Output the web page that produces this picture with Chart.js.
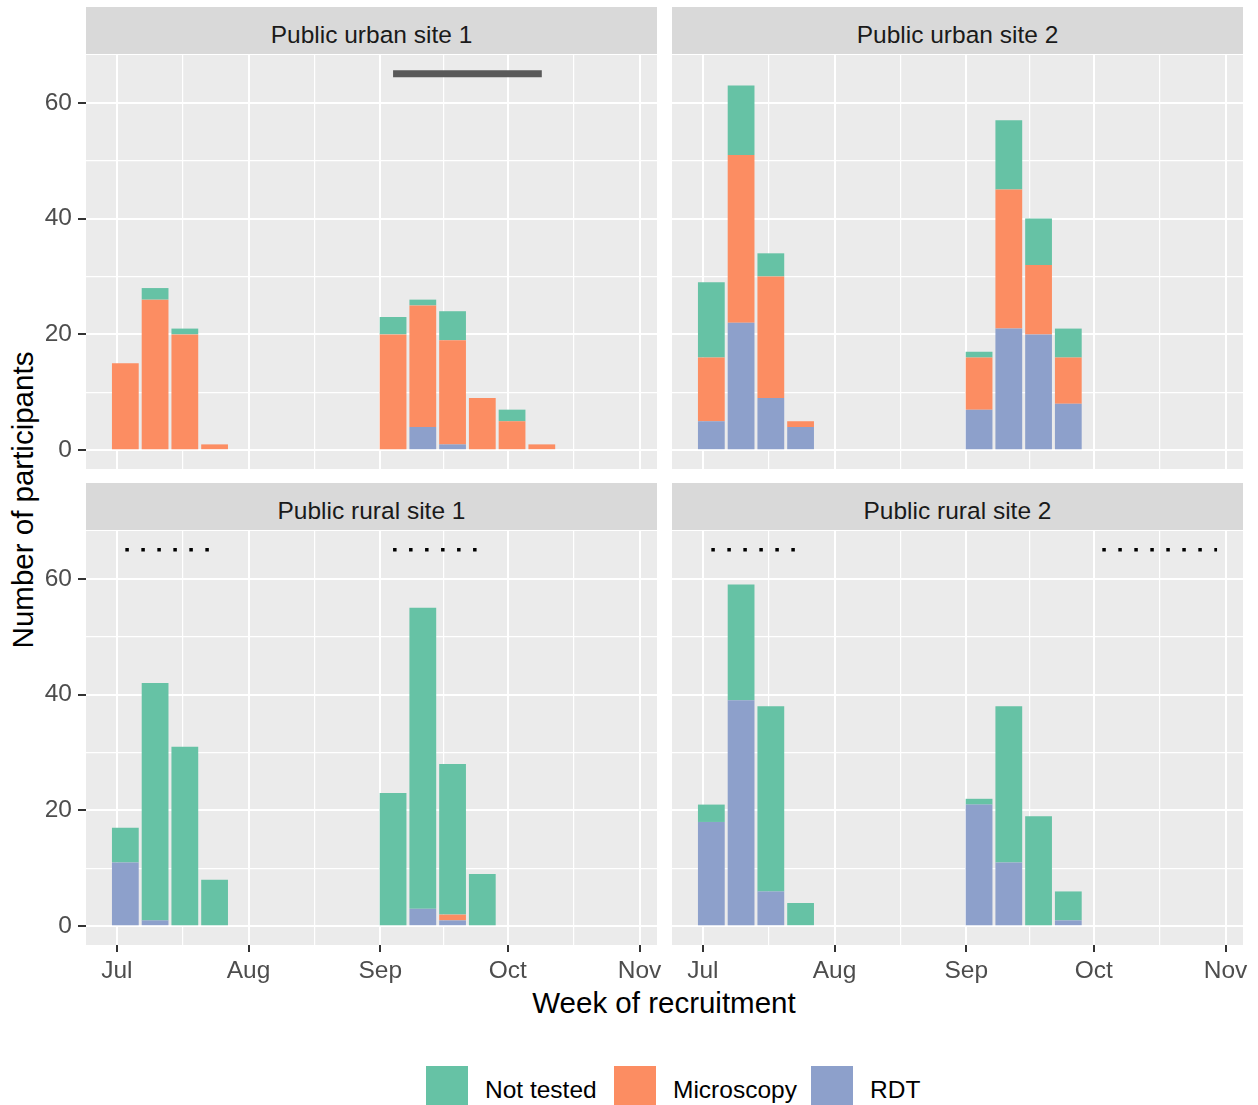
<!DOCTYPE html>
<html>
<head>
<meta charset="utf-8">
<title>Week of recruitment</title>
<script src="https://cdn.jsdelivr.net/npm/chart.js@4.4.1/dist/chart.umd.min.js"></script>
<style>
  body { margin: 0; background: #fff; }
  #lienzo { position: relative; width: 1258px; height: 1105px; overflow: hidden; background: #fff;
            font-family: "Liberation Sans", Arial, sans-serif; }
  #lienzo canvas { position: absolute; }
  .strip { position: absolute; background: #D9D9D9; color: #1A1A1A; font-size: 24.5px; box-sizing: border-box;
           padding-top: 8px; display: flex; align-items: center; justify-content: center; white-space: nowrap; }
  .titulo { position: absolute; color: #000; font-size: 29.5px; white-space: nowrap; }
  .item { position: absolute; top: 1066px; height: 42px; display: flex; align-items: center;
          font-size: 24.5px; color: #000; }
  .clave { width: 42px; height: 42px; margin-right: 17px; }
  .texto { padding-top: 6px; white-space: nowrap; }
</style>
</head>
<body>
<div id="lienzo">
  <div class="titulo" style="left:23px;top:500px;transform:translate(-50%,-50%) rotate(-90deg)">Number of participants</div>
  <div class="titulo" style="left:664px;top:1003px;transform:translate(-50%,-50%)">Week of recruitment</div>
</div>
<script>
// values, x in days counted from 1 Jul
const months = ['Jul', 'Aug', 'Sep', 'Oct', 'Nov']
const monthDays = [0, 31, 62, 92, 123]
const yTicks = [0, 20, 40, 60]
const categories = ['Not tested', 'Microscopy', 'RDT']
const colors = ['#66C2A5', '#FC8D62', '#8DA0CB']
const siteNames = ['Public urban site 1', 'Public urban site 2', 'Public rural site 1', 'Public rural site 2']

const urban1Weeks = [2, 9, 16, 23, 65, 72, 79, 86, 93, 100]
const urban1NotTested = [0, 2, 1, 0, 3, 1, 5, 0, 2, 0]
const urban1Microscopy = [15, 26, 20, 1, 20, 21, 18, 9, 5, 1]
const urban1RDT = [0, 0, 0, 0, 0, 4, 1, 0, 0, 0]

const urban2Weeks = [2, 9, 16, 23, 65, 72, 79, 86]
const urban2NotTested = [13, 12, 4, 0, 1, 12, 8, 5]
const urban2Microscopy = [11, 29, 21, 1, 9, 24, 12, 8]
const urban2RDT = [5, 22, 9, 4, 7, 21, 20, 8]

const rural1Weeks = [2, 9, 16, 23, 65, 72, 79, 86]
const rural1NotTested = [6, 41, 31, 8, 23, 52, 26, 9]
const rural1Microscopy = [0, 0, 0, 0, 0, 0, 1, 0]
const rural1RDT = [11, 1, 0, 0, 0, 3, 1, 0]

const rural2Weeks = [2, 9, 16, 23, 65, 72, 79, 86]
const rural2NotTested = [3, 20, 32, 4, 1, 27, 19, 5]
const rural2Microscopy = [0, 0, 0, 0, 0, 0, 0, 0]
const rural2RDT = [18, 39, 6, 0, 21, 11, 0, 1]

// horizontal marks above the bars (start day, end day)
const markLevel = 65
const urban1Marks = [[65, 100]]
const urban2Marks = []
const rural1Marks = [[2, 23], [65, 86]]
const rural2Marks = [[2, 23], [94, 121]]

const fuente = '"Liberation Sans", Arial, sans-serif'
const lienzo = document.getElementById('lienzo')

// ggplot style limits: data range plus 5% each side
const barWidth = 0.9 * 7
const extremos = []
;[urban1Weeks, urban2Weeks, rural1Weeks, rural2Weeks].forEach(w => w.forEach(d => extremos.push(d - barWidth / 2, d + barWidth / 2)))
;[urban1Marks, urban2Marks, rural1Marks, rural2Marks].forEach(m => m.forEach(s => extremos.push(s[0], s[1])))
const lo = Math.min(...extremos), hi = Math.max(...extremos)
const xMin = lo - 0.05 * (hi - lo)
const xMax = hi + 0.05 * (hi - lo)
const yMin = -0.05 * markLevel
const yMax = markLevel * 1.05

const xGrid = []
monthDays.forEach((d, i) => {
    xGrid.push(d)
    if (i < monthDays.length - 1) xGrid.push((d + monthDays[i + 1]) / 2)
})
const yGrid = []
yTicks.forEach((v, i) => {
    yGrid.push(v)
    if (i < yTicks.length - 1) yGrid.push((v + yTicks[i + 1]) / 2)
})

const layout = [
    {left: 86, top: 55, w: 571, h: 414, strip: 7, ejeY: true, ejeX: false},
    {left: 672, top: 55, w: 571, h: 414, strip: 7, ejeY: false, ejeX: false},
    {left: 86, top: 531, w: 571, h: 414, strip: 483, ejeY: true, ejeX: true},
    {left: 672, top: 531, w: 571, h: 414, strip: 483, ejeY: false, ejeX: true}
]
const leyendaX = [426, 614, 811]

const fondo = {
    id: 'fondo',
    beforeDraw(chart) {
        const a = chart.chartArea
        chart.ctx.save()
        chart.ctx.fillStyle = '#EBEBEB'
        chart.ctx.fillRect(a.left, a.top, a.width, a.height)
        chart.ctx.restore()
    }
}

const estiloSolido = {color: '#595959', width: 7, dash: []}
const estiloPuntos = {color: '#000000', width: 3.5, dash: [3.5, 12.5]}

function dibujar(n, weeks, notTested, micro, rdt, marks, estilo) {
    const box = layout[n]
    // room so the outer tick labels do not squeeze the panel
    const padTop = 24
    const padBottom = box.ejeX ? 0 : 24
    const padRight = box.ejeX ? 14 : 0

    const tira = document.createElement('div')
    tira.className = 'strip'
    tira.style.left = box.left + 'px'
    tira.style.top = box.strip + 'px'
    tira.style.width = box.w + 'px'
    tira.style.height = '47px'
    tira.textContent = siteNames[n]
    lienzo.appendChild(tira)

    const cv = document.createElement('canvas')
    cv.width = box.w + (box.ejeY ? 86 : 0) + padRight
    cv.height = box.h + padTop + padBottom + (box.ejeX ? 66 : 0)
    cv.style.left = (box.left - (box.ejeY ? 86 : 0)) + 'px'
    cv.style.top = (box.top - padTop) + 'px'
    lienzo.appendChild(cv)

    const serie = (vals, i) => ({
        type: 'bar',
        label: categories[i],
        data: weeks.map((w, k) => ({x: w, y: vals[k] || null})),
        backgroundColor: colors[i],
        borderWidth: 0
    })
    // stacked bottom to top: RDT, Microscopy, Not tested
    const datasets = [serie(rdt, 2), serie(micro, 1), serie(notTested, 0)]

    marks.forEach((s, i) => {
        datasets.push({
            type: 'line',
            stack: 'mark' + i,
            data: [{x: s[0], y: markLevel}, {x: s[1], y: markLevel}],
            borderColor: estilo.color,
            borderWidth: estilo.width,
            borderDash: estilo.dash,
            borderCapStyle: 'butt',
            pointRadius: 0,
            fill: false
        })
    })

    const esMes = v => monthDays.includes(v)
    const esMayor = v => yTicks.includes(v)

    new Chart(cv, {
        type: 'bar',
        data: {datasets: datasets},
        options: {
            responsive: false,
            animation: false,
            events: [],
            layout: {padding: {top: padTop, bottom: padBottom, right: padRight, left: 0}},
            plugins: {legend: {display: false}, tooltip: {enabled: false}},
            datasets: {bar: {categoryPercentage: 1, barPercentage: 0.9}},
            scales: {
                x: {
                    type: 'linear',
                    stacked: true,
                    offset: false,
                    min: xMin,
                    max: xMax,
                    afterBuildTicks: s => { s.ticks = xGrid.map(v => ({value: v})) },
                    afterFit: s => { s.height = box.ejeX ? 66 : 0 },
                    border: {display: false},
                    grid: {
                        offset: false,
                        color: '#FFFFFF',
                        lineWidth: c => esMes(c.tick.value) ? 2 : 1.2,
                        drawTicks: box.ejeX,
                        tickLength: 7,
                        tickWidth: 2,
                        tickColor: c => esMes(c.tick.value) ? '#333333' : 'rgba(0,0,0,0)'
                    },
                    ticks: {
                        display: box.ejeX,
                        autoSkip: false,
                        maxRotation: 0,
                        padding: 5,
                        color: '#4D4D4D',
                        font: {family: fuente, size: 24.5},
                        callback: v => {
                            const i = monthDays.indexOf(v)
                            return i >= 0 ? months[i] : ''
                        }
                    }
                },
                y: {
                    type: 'linear',
                    stacked: true,
                    min: yMin,
                    max: yMax,
                    afterBuildTicks: s => { s.ticks = yGrid.map(v => ({value: v})) },
                    afterFit: s => { s.width = box.ejeY ? 86 : 0 },
                    border: {display: false},
                    grid: {
                        color: '#FFFFFF',
                        lineWidth: c => esMayor(c.tick.value) ? 2 : 1.2,
                        drawTicks: box.ejeY,
                        tickLength: 8,
                        tickWidth: 2,
                        tickColor: c => esMayor(c.tick.value) ? '#333333' : 'rgba(0,0,0,0)'
                    },
                    ticks: {
                        display: box.ejeY,
                        autoSkip: false,
                        padding: 6,
                        color: '#4D4D4D',
                        font: {family: fuente, size: 24.5},
                        callback: v => esMayor(v) ? String(v) : ''
                    }
                }
            }
        },
        plugins: [fondo]
    })
}

dibujar(0, urban1Weeks, urban1NotTested, urban1Microscopy, urban1RDT, urban1Marks, estiloSolido)
dibujar(1, urban2Weeks, urban2NotTested, urban2Microscopy, urban2RDT, urban2Marks, estiloPuntos)
dibujar(2, rural1Weeks, rural1NotTested, rural1Microscopy, rural1RDT, rural1Marks, estiloPuntos)
dibujar(3, rural2Weeks, rural2NotTested, rural2Microscopy, rural2RDT, rural2Marks, estiloPuntos)

// shared legend
categories.forEach((c, i) => {
    const item = document.createElement('div')
    item.className = 'item'
    item.style.left = leyendaX[i] + 'px'
    const clave = document.createElement('div')
    clave.className = 'clave'
    clave.style.background = colors[i]
    const texto = document.createElement('span')
    texto.className = 'texto'
    texto.textContent = c
    item.appendChild(clave)
    item.appendChild(texto)
    lienzo.appendChild(item)
})
</script>
</body>
</html>
